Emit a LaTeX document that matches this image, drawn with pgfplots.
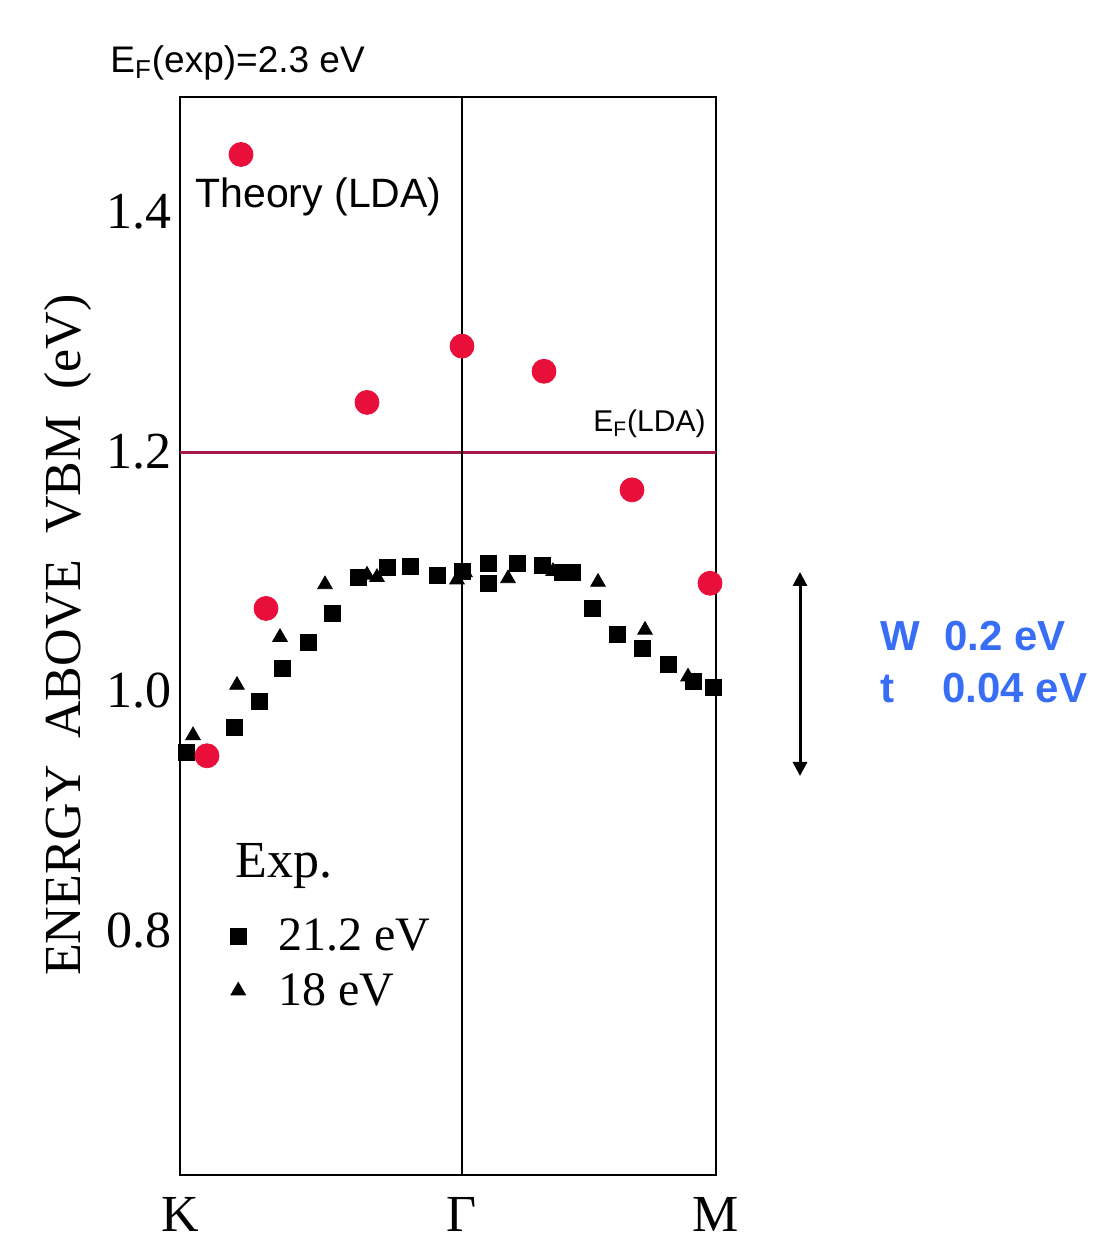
\documentclass[border=0pt]{standalone}
\usepackage{fontspec}
\setmainfont{Liberation Serif}
\setsansfont{Liberation Sans}
\usepackage{pgfplots}
\pgfplotsset{compat=1.18}
\usetikzlibrary{arrows.meta}
\definecolor{redpt}{RGB}{232,16,58}
\definecolor{efline}{RGB}{165,25,70}
\definecolor{blueT}{RGB}{55,110,245}
\pgfplotstableread{
x y
6 0.953
54 0.974
79 0.995
102 1.023
128 1.045
152 1.069
178 1.099
207 1.107
230 1.108
257 1.101
282 1.104
308 1.111
308 1.094
337 1.111
362 1.109
382 1.103
392 1.103
412 1.073
437 1.051
462 1.040
488 1.026
513 1.012
533 1.007
}\sqdata
\pgfplotstableread{
x y
13 0.967
57 1.009
100 1.049
145 1.093
187 1.101
197 1.099
277 1.097
285 1.103
328 1.098
373 1.104
418 1.095
465 1.055
508 1.016
}\tridata
\pgfplotstableread{
x y
61 1.452
187 1.245
282 1.292
364 1.271
452 1.172
530 1.094
27 0.950
86 1.073
}\lda
\begin{document}
\begin{tikzpicture}[x=1pt,y=1pt]
\useasboundingbox (0,0) rectangle (547,620);
\begin{axis}[
  at={(90pt,32.5pt)}, anchor=south west,
  scale only axis, width=268pt, height=539pt,
  xmin=0, xmax=536, ymin=0.6, ymax=1.5,
  xtick={0,282,536}, xticklabels={K,Γ,M},
  ytick={0.8,1.0,1.2,1.4}, yticklabels={0.8,1.0,1.2,1.4},
  major tick length=0pt,
  tick label style={font=\fontsize{26}{30}\selectfont},
  yticklabel style={inner sep=0pt, xshift=-4pt, yshift=2.5pt},
  xticklabel style={inner sep=0pt, yshift=-11pt},
  axis line style={line width=1.3pt},
  ylabel={ENERGY\ \ ABOVE\ \ VBM\ \ (eV)},
  ylabel style={font=\fontsize{26}{30}\selectfont, at={(axis description cs:-0.209,0.501)}, anchor=center},
  clip=false,
  legend cell align=left,
  legend style={draw=none, fill=none, at={(axis description cs:0.093,0.242)}, anchor=north west,
    font=\fontsize{24}{28}\selectfont, row sep=6pt, inner sep=0pt,
    /tikz/every odd column/.append style={column sep=14pt}},
]
\addplot[forget plot, efline, line width=1.5pt] coordinates {(0,1.203) (536,1.203)};
\addplot[forget plot, black, line width=1pt] coordinates {(282,0.6) (282,1.5)};
\addplot[only marks, mark=square*, mark size=4pt, black] table {\sqdata};
\addlegendentry{21.2 eV}
\addplot[only marks, mark=triangle*, mark size=4.2pt, black] table {\tridata};
\addlegendentry{18 eV}
\addplot[forget plot, only marks, mark=*, mark size=6pt, redpt, mark options={fill=redpt, draw=redpt}] table {\lda};
\node[anchor=base west, inner sep=0pt, font=\sffamily\fontsize{20.5}{24}\selectfont] at (axis cs:15,1.408) {Theory (LDA)};
\node[anchor=base west, inner sep=0pt, font=\sffamily\fontsize{15}{18}\selectfont] at (axis cs:413,1.2204) {E\textsubscript{F}(LDA)};
\node[anchor=base west, inner sep=0pt, font=\fontsize{26}{30}\selectfont] at (axis cs:55,0.848) {Exp.};
\end{axis}
\node[anchor=base west, inner sep=0pt, font=\sffamily\fontsize{18.5}{22}\selectfont] at (55,583.5) {E\textsubscript{F}(exp)=2.3 eV};
\draw[{Triangle[length=7pt,width=7pt]}-{Triangle[length=7pt,width=7pt]}, line width=1.5pt] (400,334) -- (400,232);
\begin{scope}[every node/.style={anchor=base west, inner sep=0pt, text=blueT, font=\sffamily\bfseries\fontsize{21}{25}\selectfont}]
\node at (440,294.5) {W};
\node at (472,294.5) {0.2 eV};
\node at (440,268.5) {t};
\node at (471,268.5) {0.04 eV};
\end{scope}
\end{tikzpicture}
\end{document}
